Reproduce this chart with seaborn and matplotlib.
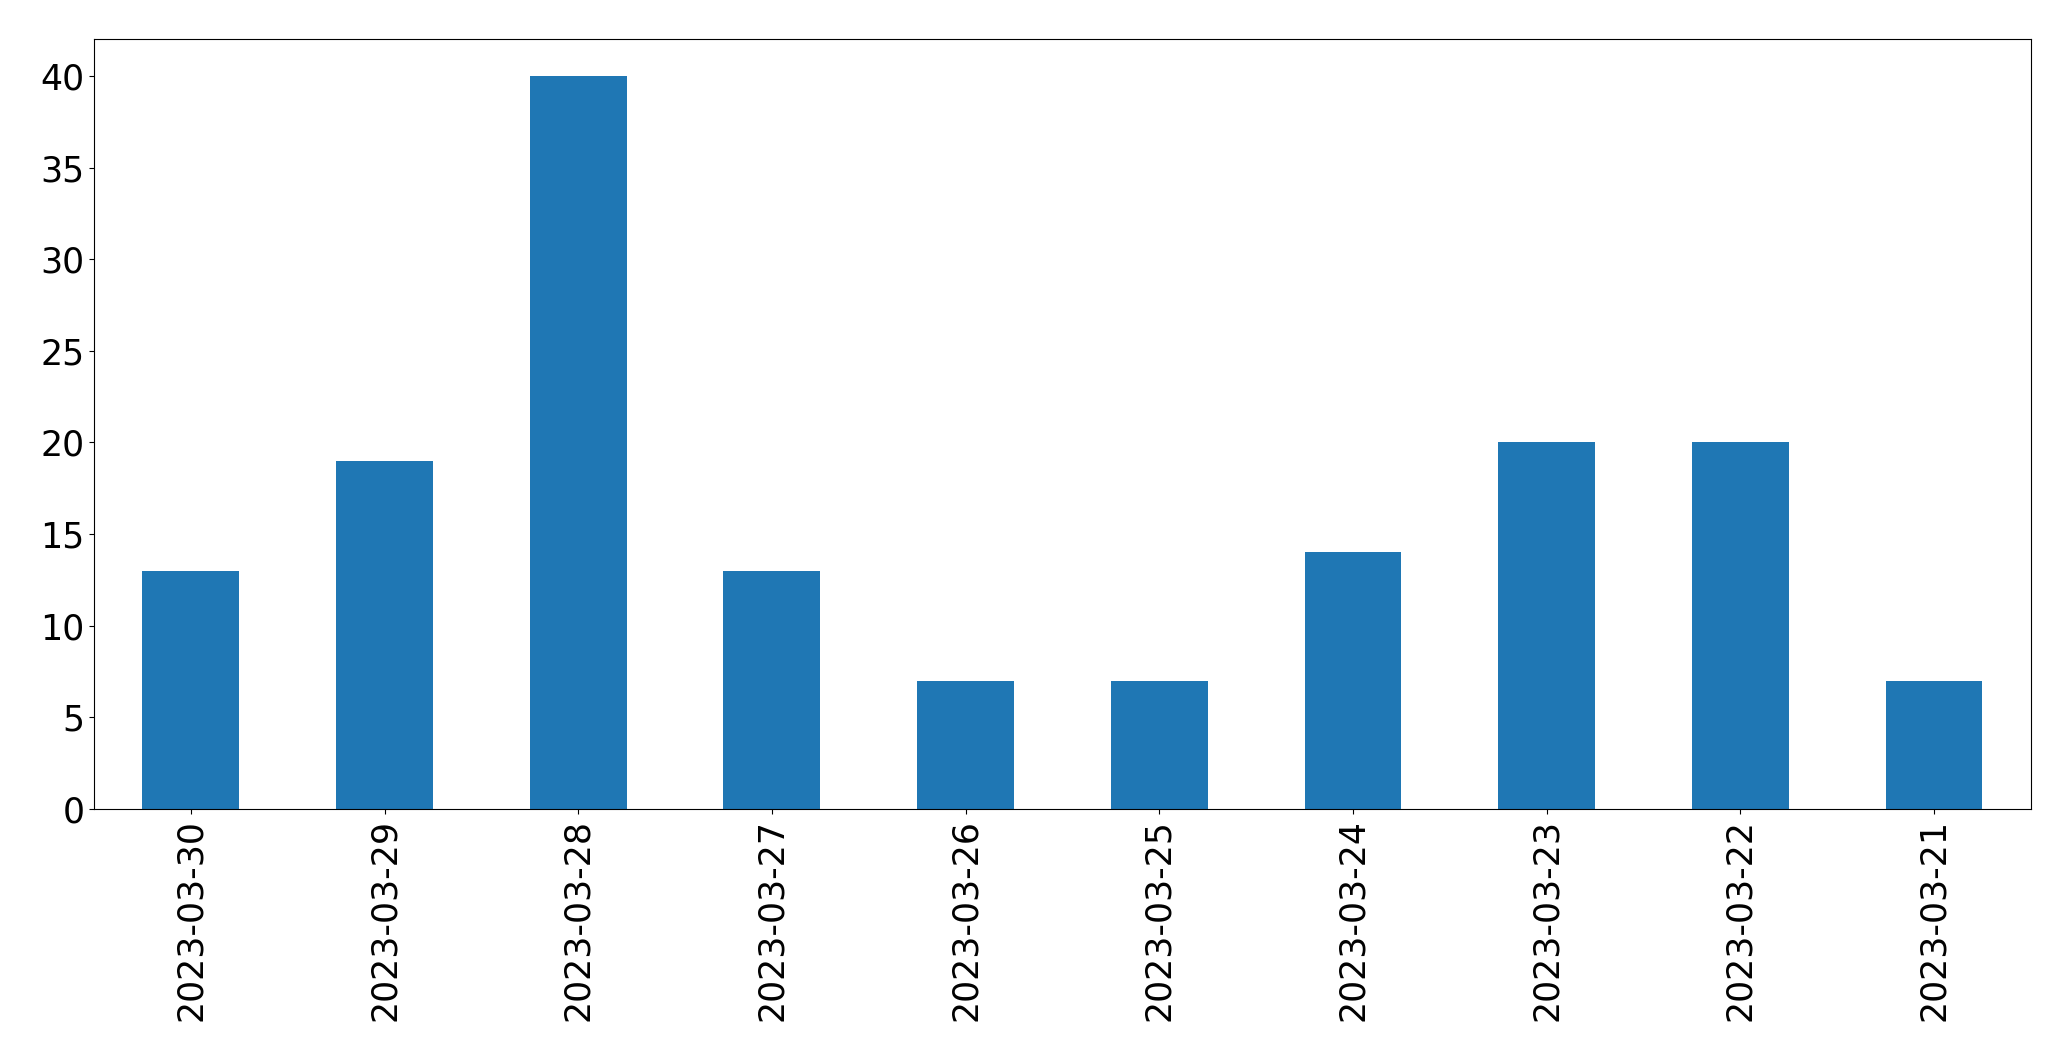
import matplotlib
matplotlib.use("Agg")
import matplotlib.pyplot as plt
import seaborn as sns
import pandas as pd

dates = ["2023-03-30", "2023-03-29", "2023-03-28", "2023-03-27", "2023-03-26",
         "2023-03-25", "2023-03-24", "2023-03-23", "2023-03-22", "2023-03-21"]
counts = [13, 19, 40, 13, 7, 7, 14, 20, 20, 7]

df = pd.DataFrame({"date": dates, "count": counts})

plt.rcParams["font.family"] = ["DejaVu Sans"]
fig = plt.figure(figsize=(20.71, 10.61), dpi=100)
ax = fig.add_axes([0.0454, 0.2375, 0.9352, 0.7255])
sns.barplot(data=df, x="date", y="count", order=dates, color="#1f77b4",
            saturation=1, width=0.5, ax=ax)
ax.set_xlim(-0.5, len(dates) - 0.5)
ax.set_ylim(0, 42)
ax.set_xlabel("")
ax.set_ylabel("")
ax.tick_params(axis="both", labelsize=25)
plt.setp(ax.get_xticklabels(), rotation=90)
fig.savefig("out.png", dpi=100)
